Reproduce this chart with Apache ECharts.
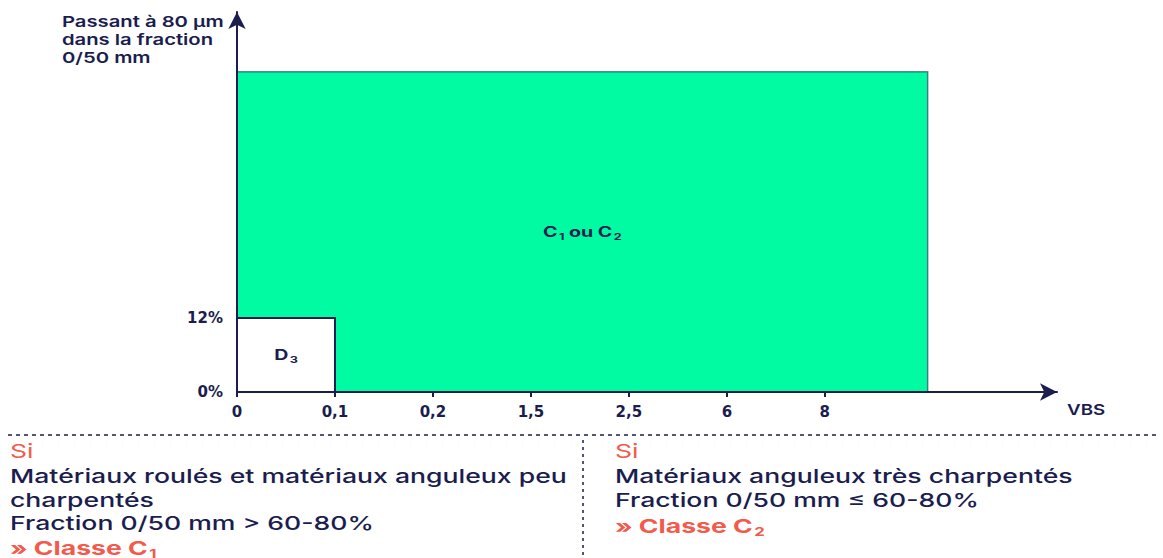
<!DOCTYPE html>
<html>
<head>
<meta charset="utf-8">
<script src="https://cdn.jsdelivr.net/npm/echarts@6/dist/echarts.min.js"></script>
<style>html,body{margin:0;padding:0;background:#fff}#c{width:1163px;height:558px}</style>
</head>
<body>
<div id="c"></div>
<script>
// ---- data ----
const xTickLabels = ['0', '0,1', '0,2', '1,5', '2,5', '6', '8'];
const xTickPositions = [0, 1, 2, 3, 4, 5, 6];
const yTickValues = [0, 12];
const yTickLabels = ['0%', '12%'];
// zones: [x0, x1, y0, y1]
const zoneNames = ['C1 ou C2', 'D3'];
const zoneRects = [[0, 7.05, 0, 51.9], [0, 1, 0, 12]];
const yAxisTitle = ['Passant à 80 µm', 'dans la fraction', '0/50 mm'];
const xAxisTitle = 'VBS';
const leftText = ['Si', 'Matériaux roulés et matériaux anguleux peu', 'charpentés', 'Fraction 0/50 mm > 60-80%', '» Classe C'];
const rightText = ['Si', 'Matériaux anguleux très charpentés', 'Fraction 0/50 mm ≤ 60-80%', '» Classe C'];

const NAVY = '#1b1d4f';
const RED = '#f25a4b';
const GREEN = '#00fba3';
const FONT = 'Inter';
const AXFONT = 'DejaVu Sans';
const SX = 1.4;

const zoneStyles = [
  {fill: GREEN, stroke: 'rgba(27,29,79,0.55)', lineWidth: 1.5, label: '{b|C}{s|1}{b| ou C}{s|2}'},
  {fill: '#ffffff', stroke: NAVY, lineWidth: 2, label: '{b|D}{s|3}'}
];

const chart = echarts.init(document.getElementById('c'), null, {renderer: 'svg'});

function bodyLines(lines, x, subscript) {
  const els = [];
  const tops = [442, 467, 491, 514, 536];
  lines.forEach((t, i) => {
    const isFirst = i === 0;
    const isLast = i === lines.length - 1;
    let style;
    if (isFirst) {
      style = {text: t, fill: RED, font: '400 19px ' + FONT};
    } else if (isLast) {
      style = {text: '{r|' + t + '}{rs|' + subscript + '}', rich: {
        r: {fill: RED, font: '700 19px ' + FONT},
        rs: {fill: RED, font: '700 12px ' + FONT, padding: [12, 0, 0, 1]}
      }};
    } else {
      style = {text: t, fill: NAVY, font: '500 19px ' + FONT};
    }
    style.verticalAlign = 'top';
    els.push({type: 'text', x: x, y: tops[i], scaleX: SX, style: style, z: 10});
  });
  return els;
}

const graphics = [
  {type: 'text', x: 62, y: 13, scaleX: 1.35, style: {text: yAxisTitle.join('\n'), fill: NAVY, font: '600 15px ' + FONT, lineHeight: 18, verticalAlign: 'top'}},
  {type: 'text', x: 1067, y: 402, scaleX: 1.25, style: {text: xAxisTitle, fill: NAVY, font: '600 15px ' + FONT, verticalAlign: 'top'}},
  {type: 'line', shape: {x1: 8, y1: 435, x2: 1160, y2: 435}, style: {stroke: NAVY, lineWidth: 1.5, lineDash: [4, 4]}},
  {type: 'line', shape: {x1: 583, y1: 440, x2: 583, y2: 558}, style: {stroke: NAVY, lineWidth: 1.5, lineDash: [3, 4]}}
].concat(bodyLines(leftText, 10, '1'), bodyLines(rightText, 615, '2'));

chart.setOption({
  animation: false,
  grid: {left: 237, right: 106, top: 12, bottom: 166},
  xAxis: {
    type: 'value', min: 0, max: 8.37, z: 5,
    splitLine: {show: false},
    axisLine: {show: true, lineStyle: {color: NAVY, width: 2}, symbol: ['none', 'arrow'], symbolSize: [13, 17]},
    axisTick: {show: true, length: 5, lineStyle: {color: NAVY, width: 2}, customValues: xTickPositions},
    axisLabel: {customValues: xTickPositions, margin: 12, color: NAVY, fontFamily: AXFONT, fontWeight: 'bold', fontSize: 15,
      formatter: v => xTickLabels[xTickPositions.indexOf(Math.round(v))] || ''}
  },
  yAxis: {
    type: 'value', min: 0, max: 61.6, z: 5,
    splitLine: {show: false},
    axisLine: {show: true, lineStyle: {color: NAVY, width: 2}, symbol: ['none', 'arrow'], symbolSize: [13, 17]},
    axisTick: {show: false},
    axisLabel: {customValues: yTickValues, margin: 14, color: NAVY, fontFamily: AXFONT, fontWeight: 'bold', fontSize: 15,
      formatter: v => yTickLabels[yTickValues.indexOf(Math.round(v))] || ''}
  },
  series: [{
    type: 'custom', z: 1,
    data: zoneRects.map((r, i) => ({value: r, name: zoneNames[i]})),
    renderItem: function (params, api) {
      const i = params.dataIndex;
      const p0 = api.coord([api.value(0), api.value(3)]);
      const p1 = api.coord([api.value(1), api.value(2)]);
      const st = zoneStyles[i];
      return {
        type: 'group',
        children: [
          {type: 'rect', shape: {x: p0[0], y: p0[1], width: p1[0] - p0[0], height: p1[1] - p0[1]},
            style: {fill: st.fill, stroke: st.stroke, lineWidth: st.lineWidth}},
          {type: 'text', x: (p0[0] + p1[0]) / 2, y: (p0[1] + p1[1]) / 2, scaleX: SX,
            style: {text: st.label, align: 'center', verticalAlign: 'middle', rich: {
              b: {fill: NAVY, font: '700 14px ' + FONT},
              s: {fill: NAVY, font: '700 9px ' + FONT, padding: [9, 0, 0, 1]}
            }}}
        ]
      };
    }
  }],
  graphic: graphics
});
</script>
</body>
</html>
